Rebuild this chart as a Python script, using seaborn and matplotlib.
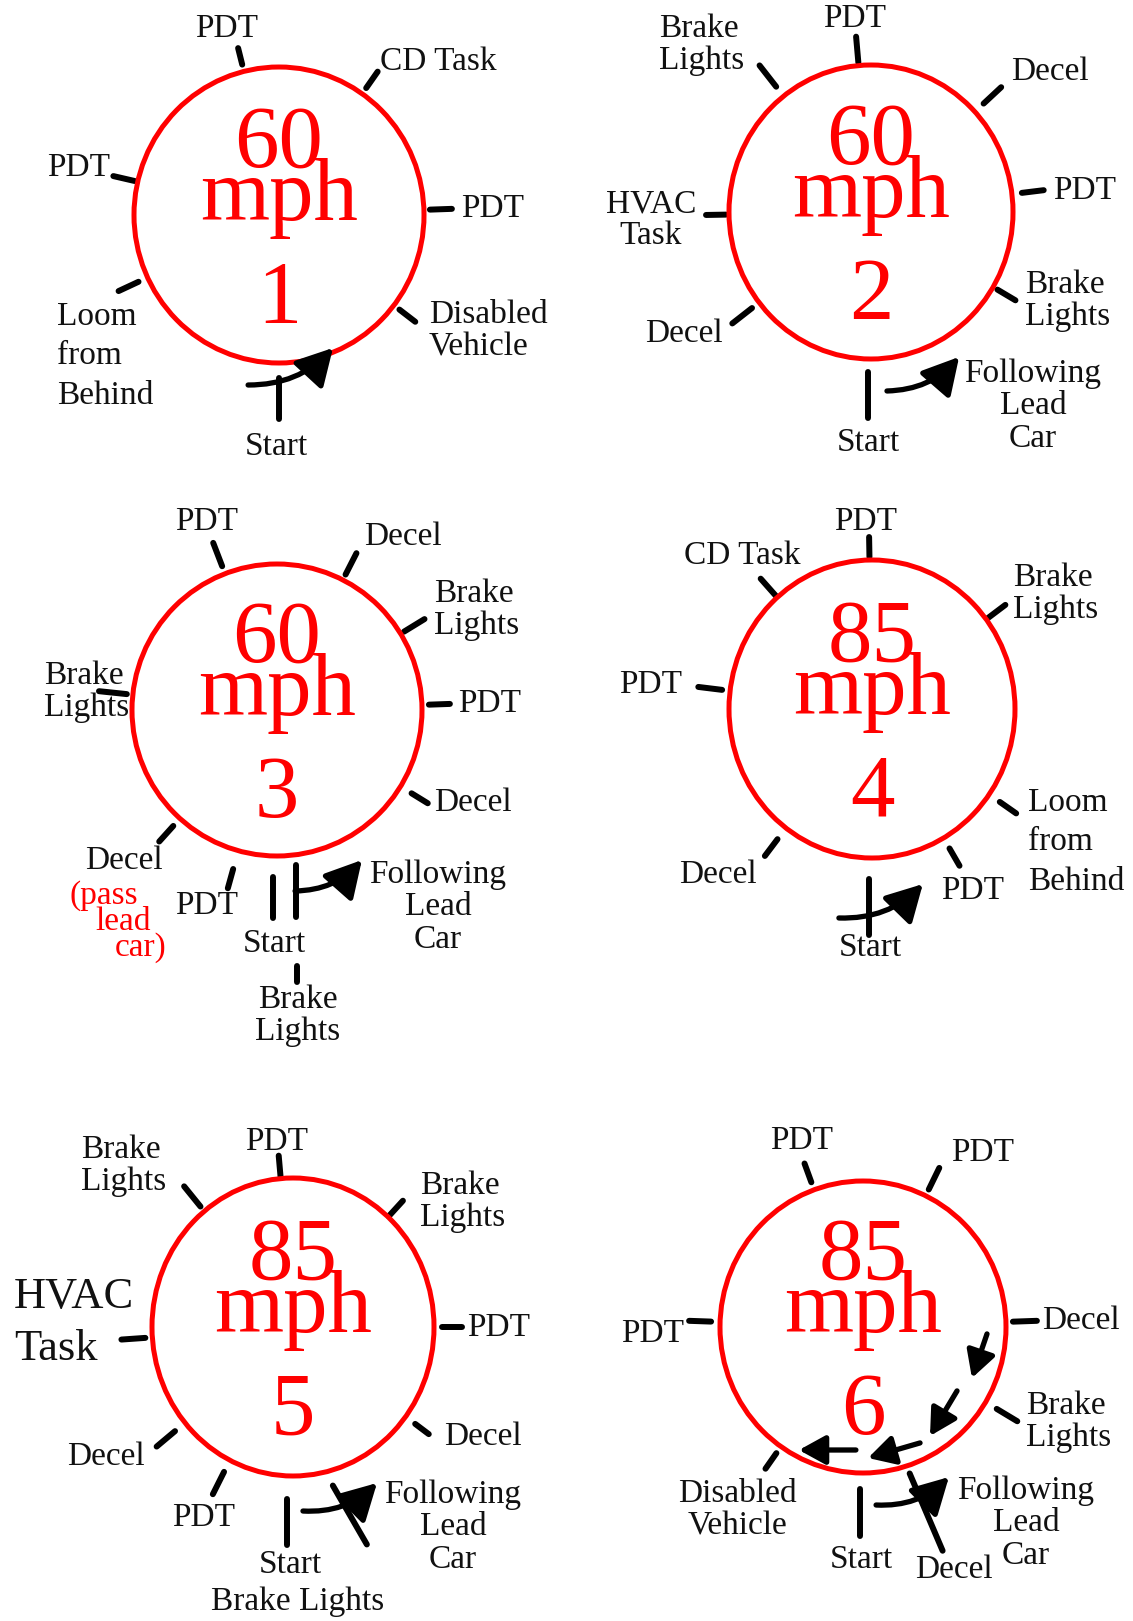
"""Driving-loop event diagram: six speed loops with the events placed around each ring."""

import matplotlib

matplotlib.use("Agg")

import matplotlib.pyplot as plt
import numpy as np
import pandas as pd
import seaborn as sns
from matplotlib.patches import Ellipse, FancyArrowPatch

# ---- data ---------------------------------------------------------------
SPEEDS = ["60", "60", "60", "85", "85", "85"]
LOOP_IDS = ["1", "2", "3", "4", "5", "6"]

# events around each loop; angle in degrees, counter-clockwise, 0 = east
LOOP1_EVENTS = ["Start", "Disabled\nVehicle", "PDT", "CD Task", "PDT", "PDT", "Loom\nfrom\nBehind"]
LOOP1_ANGLES = [270, 322.4, 2, 55, 104, 167, 205]

LOOP2_EVENTS = ["Start", "Brake\nLights", "PDT", "Decel", "PDT", "Brake\nLights", "HVAC\nTask", "Decel"]
LOOP2_ANGLES = [269, 329.3, 7, 43, 95, 128, 181, 218]

LOOP3_EVENTS = ["Start", "", "Decel", "PDT", "Brake\nLights", "Decel", "PDT",
                "Brake\nLights", "Decel", "PDT", "Brake\nLights"]
LOOP3_ANGLES = [268.6, 277, 328.4, 2, 31.5, 63, 111, 174, 228, 254.5, 274.4]
LOOP3_NOTE = ["(pass", "lead", "car)"]

LOOP4_EVENTS = ["Start", "PDT", "Loom\nfrom\nBehind", "Brake\nLights", "PDT", "CD Task", "PDT", "Decel"]
LOOP4_ANGLES = [269, 300, 325, 37, 91, 131.5, 173, 233]

LOOP5_EVENTS = ["Start", "Brake Lights", "Decel", "PDT", "Brake\nLights", "PDT",
                "Brake\nLights", "HVAC\nTask", "Decel", "PDT"]
LOOP5_ANGLES = [268, 284.8, 323, 0, 47.6, 95, 129, 184, 220, 243.4]

LOOP6_EVENTS = ["Start", "Decel", "Brake\nLights", "Decel", "PDT", "PDT", "PDT", "Disabled\nVehicle"]
LOOP6_ANGLES = [269, 288, 329, 2, 64, 110, 178, 235]

FOLLOW_LABELS = ["", "Following\nLead\nCar", "Following\nLead\nCar", "",
                 "Following\nLead\nCar", "Following\nLead\nCar"]

EVENTS = [LOOP1_EVENTS, LOOP2_EVENTS, LOOP3_EVENTS, LOOP4_EVENTS, LOOP5_EVENTS, LOOP6_EVENTS]
ANGLES = [LOOP1_ANGLES, LOOP2_ANGLES, LOOP3_ANGLES, LOOP4_ANGLES, LOOP5_ANGLES, LOOP6_ANGLES]

# ---- layout (pixels) -----------------------------------------------------
CIRCLES = [  # cx, cy, rx, ry
    (279, 215, 145, 148),
    (871, 212, 142, 147),
    (277, 710, 145, 146),
    (872, 709, 143, 149),
    (293, 1327, 141, 149),
    (863, 1327, 143, 146),
]

# tick: distance outside ring where it starts / ends, direction (None = radial)
TICKS = [
    [(15, 56, 270), (7, 27, None), (6, 28, None), (7, 27, None), (7, 24, None),
     (3, 25, None), (10, 32, None)],
    [(13, 59, 270), (5, 26, None), (10, 32, None), (12, 36, None), (3, 29, None),
     (12, 39, None), (3, 23, None), (9, 34, None)],
    [(21, 62, 270), (10, 62, 270), (13, 32, None), (7, 28, None), (4, 28, None),
     (6, 30, None), (8, 33, None), (6, 34, None), (10, 31, None), (19, 39, None),
     (111, 127, 270)],
    [(21, 77, 270), (12, 32, None), (13, 33, None), (2, 24, None), (3, 23, None),
     (2, 25, None), (8, 32, None), (14, 35, None)],
    [(23, 69, 270), (15, 83, -60), (12, 29, None), (8, 28, None), (1, 22, None),
     (1, 23, None), (6, 32, None), (7, 31, None), (13, 37, None), (13, 38, None)],
    [(16, 63, 270), (8, 92, -66.9), (13, 37, None), (7, 31, None), (7, 31, None),
     (8, 28, None), (9, 31, None), (8, 27, None)],
]

# label centre offset from the circle centre, horizontal alignment
LABEL_POS = [
    [(-3, 232, "center"), (150, 116, "left"), (182, -6, "left"), (101, -153, "left"),
     (-52, -186, "center"), (-169, -47, "right"), (-222, 141, "left")],
    [(-3, 231, "center"), (154, 89, "left"), (182, -21, "left"), (140, -140, "left"),
     (-16, -193, "center"), (-212, -167, "left"), (-220, 8, "center"), (-148, 122, "right")],
    [(-3, 234, "center"), None, (157, 93, "left"), (181, -6, "left"), (157, -100, "left"),
     (87, -173, "left"), (-70, -188, "center"), (-233, -18, "left"), (-153, 151, "center"),
     (-70, 196, "center"), (21, 306, "center")],
    [(-2, 239, "center"), (101, 182, "center"), (156, 133, "left"), (141, -115, "left"),
     (-6, -187, "center"), (-130, -153, "center"), (-190, -24, "right"), (-154, 166, "center")],
    [(-3, 238, "center"), (5, 275, "center"), (151, 110, "left"), (174, 1, "left"),
     (127, -125, "left"), (-16, -185, "center"), (-212, -161, "left"), (-279, -4, "left"),
     (-187, 130, "center"), (-89, 191, "center")],
    [(-2, 233, "center"), (91, 243, "center"), (163, 95, "left"), (179, -6, "left"),
     (88, -174, "left"), (-61, -186, "center"), (-179, 7, "right"), (-126, 183, "center")],
]
LABEL_STYLE = {(0, 6): {"linespacing": 1.38}, (3, 2): {"linespacing": 1.38},
               (4, 7): {"fontsize": 32, "linespacing": 1.38}}

# curved "following" arrow: (angle0, dist0, angle1, dist1) from the centre
FOLLOW_ARROWS = [
    (-100.3, 172.8, -67.9, 143.5),
    (-84.9, 179.7, -58.7, 169.6),
    (-84.3, 181.9, -60.5, 172.4),
    (-99.0, 211.6, -73.8, 182.3),
    (-86.9, 184.3, -61.7, 177.2),
    (-85.8, 178.5, -60.2, 172.9),
]
FOLLOW_LABEL_POS = [None, (162, 194), (161, 197), None, (160, 200), (163, 196)]
NOTE_POS = [(-173, 186), (-154, 212), (-136, 238)]

# loop 6: path back inside the ring
RETURN_ARROWS = [
    (-3.2, 124.2, -25.1, 120.3),
    (-34.2, 113.7, -58.4, 127.9),
    (-63.8, 129.2, -87.8, 131.1),
    (-93.3, 123.2, -117.5, 138.7),
]

RED = "#ff0000"
INK = "#111111"
W, H = 1133, 1621

sns.set_theme(style="white")
plt.rcParams["font.family"] = ["Liberation Serif", "DejaVu Serif"]


def ring_point(circle, angle, dist):
    cx, cy, rx, ry = circle
    t = np.radians(angle)
    return cx + (rx + dist) * np.cos(t), cy - (ry + dist) * np.sin(t)


def polar_point(circle, angle, dist):
    cx, cy = circle[:2]
    t = np.radians(angle)
    return cx + dist * np.cos(t), cy - dist * np.sin(t)


fig = plt.figure(figsize=(W / 100, H / 100), dpi=100)
ax = fig.add_axes([0, 0, 1, 1])

# tick segments for every event, drawn in one seaborn call
rows = []
for i, circle in enumerate(CIRCLES):
    for j, angle in enumerate(ANGLES[i]):
        d0, d1, direction = TICKS[i][j]
        x0, y0 = ring_point(circle, angle, d0)
        if direction is None:
            x1, y1 = ring_point(circle, angle, d1)
        else:
            t = np.radians(direction)
            x1, y1 = x0 + (d1 - d0) * np.cos(t), y0 - (d1 - d0) * np.sin(t)
        seg = f"{i}-{j}"
        rows.append({"seg": seg, "x": x0, "y": y0})
        rows.append({"seg": seg, "x": x1, "y": y1})
ticks = pd.DataFrame(rows)
sns.lineplot(data=ticks, x="x", y="y", units="seg", estimator=None, sort=False,
             color="black", linewidth=4.3, legend=False, ax=ax)

for i, circle in enumerate(CIRCLES):
    cx, cy, rx, ry = circle
    ax.add_patch(Ellipse((cx, cy), 2 * rx, 2 * ry, fill=False, ec=RED, lw=3.6, zorder=3))

    # speed / loop number
    for txt, dy in zip([SPEEDS[i], "mph", LOOP_IDS[i]], [-48, 5, 107]):
        ax.text(cx, cy + dy, txt, color=RED, fontsize=64, ha="center", va="baseline",
                zorder=4)

    # event labels
    for j, label in enumerate(EVENTS[i]):
        pos = LABEL_POS[i][j]
        if not label or pos is None:
            continue
        style = {"fontsize": 24, "linespacing": 1.08}
        style.update(LABEL_STYLE.get((i, j), {}))
        ax.text(cx + pos[0], cy + pos[1], label, color=INK, ha=pos[2], va="center",
                multialignment=pos[2] if pos[2] != "right" else "left", **style)

    a0, r0, a1, r1 = FOLLOW_ARROWS[i]
    ax.add_patch(FancyArrowPatch(polar_point(circle, a0, r0), polar_point(circle, a1, r1),
                                 arrowstyle="-|>,head_length=1.0,head_width=0.55",
                                 connectionstyle="arc3,rad=0.22", mutation_scale=22,
                                 lw=3.8, color="black", shrinkA=0, shrinkB=0, zorder=5))
    if FOLLOW_LABELS[i]:
        fx, fy = FOLLOW_LABEL_POS[i]
        ax.text(cx + fx, cy + fy, FOLLOW_LABELS[i], color=INK, fontsize=24, ha="center",
                va="center", linespacing=1.08)

# loop 3 note in red
cx, cy = CIRCLES[2][:2]
for txt, (nx, ny) in zip(LOOP3_NOTE, NOTE_POS):
    ax.text(cx + nx, cy + ny, txt, color=RED, fontsize=24, ha="center", va="center")

# loop 6 return path
for a0, r0, a1, r1 in RETURN_ARROWS:
    ax.add_patch(FancyArrowPatch(polar_point(CIRCLES[5], a0, r0), polar_point(CIRCLES[5], a1, r1),
                                 arrowstyle="-|>,head_length=1.0,head_width=0.55",
                                 mutation_scale=16, lw=3.8, color="black",
                                 shrinkA=0, shrinkB=0, zorder=5))

ax.set_xlim(0, W)
ax.set_ylim(H, 0)
ax.axis("off")
fig.savefig("out.png", dpi=100, facecolor="white")
plt.close(fig)
